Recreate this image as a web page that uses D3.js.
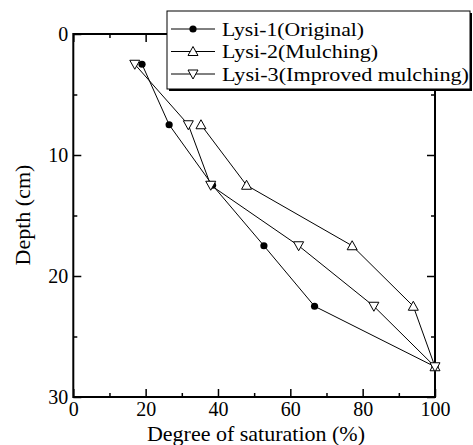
<!DOCTYPE html>
<html><head><meta charset="utf-8">
<script src="https://cdn.jsdelivr.net/npm/d3@7"></script>
<style>body{margin:0;background:#fff}svg{display:block}text{font-family:"Liberation Serif","Times New Roman",serif !important;fill:#000}</style>
</head><body><svg id="c" width="473" height="445"></svg>
<script>
const seriesNames = ["Lysi-1(Original)", "Lysi-2(Mulching)", "Lysi-3(Improved mulching)"];
const lysi1 = [[19, 2.5], [26.5, 7.5], [38.5, 12.5], [52.7, 17.5], [66.7, 22.5], [100, 27.5]];
const lysi2 = [[35.3, 7.5], [47.9, 12.5], [77.1, 17.5], [94, 22.5], [100, 27.5]];
const lysi3 = [[17, 2.5], [31.8, 7.5], [38, 12.5], [62.3, 17.5], [83.1, 22.5], [100, 27.5]];
const xTicks = [0, 20, 40, 60, 80, 100];
const yTicks = [0, 10, 20, 30];

const svg = d3.select("#c");
const L = 73.3, R = 435, T = 34, B = 397;
const x = d3.scaleLinear().domain([0, 100]).range([L, R]);
const y = d3.scaleLinear().domain([0, 30]).range([T, B]);

svg.append("rect").attr("x", L).attr("y", T).attr("width", R - L).attr("height", B - T)
  .attr("fill", "none").attr("stroke", "#000").attr("stroke-width", 2);

const minorX = d3.range(10, 100, 20), minorY = d3.range(5, 30, 10);
const gB = svg.append("g").attr("transform", `translate(0,${B})`)
  .call(d3.axisBottom(x).tickValues(xTicks).tickSizeInner(-8).tickSizeOuter(0).tickPadding(6));
svg.append("g").attr("transform", `translate(0,${B})`)
  .call(d3.axisBottom(x).tickValues(minorX).tickSizeInner(-4).tickSizeOuter(0).tickFormat(""));
svg.append("g").attr("transform", `translate(0,${T})`)
  .call(d3.axisTop(x).tickValues(xTicks).tickSizeInner(-8).tickSizeOuter(0).tickFormat(""));
svg.append("g").attr("transform", `translate(0,${T})`)
  .call(d3.axisTop(x).tickValues(minorX).tickSizeInner(-4).tickSizeOuter(0).tickFormat(""));
const gL = svg.append("g").attr("transform", `translate(${L},0)`)
  .call(d3.axisLeft(y).tickValues(yTicks).tickSizeInner(-8).tickSizeOuter(0).tickPadding(6));
svg.append("g").attr("transform", `translate(${L},0)`)
  .call(d3.axisLeft(y).tickValues(minorY).tickSizeInner(-4).tickSizeOuter(0).tickFormat(""));
svg.append("g").attr("transform", `translate(${R},0)`)
  .call(d3.axisRight(y).tickValues(yTicks).tickSizeInner(-8).tickSizeOuter(0).tickFormat(""));
svg.append("g").attr("transform", `translate(${R},0)`)
  .call(d3.axisRight(y).tickValues(minorY).tickSizeInner(-4).tickSizeOuter(0).tickFormat(""));
svg.selectAll(".domain").remove();
svg.selectAll(".tick line").attr("stroke", "#000").attr("stroke-width", 1.5);
svg.selectAll(".tick text").style("font-size", "20px").attr("fill", "#000");
gB.selectAll(".tick text").attr("y", 19).attr("dy", "0");
gL.selectAll(".tick text").attr("x", -5);

const line = d3.line().x(d => x(d[0])).y(d => y(d[1]));
const all = [lysi1, lysi2, lysi3];
all.forEach(s => svg.append("path").attr("d", line(s)).attr("fill", "none").attr("stroke", "#000").attr("stroke-width", 1));

function marker(g, i, cx, cy) {
  if (i === 0) g.append("circle").attr("cx", cx).attr("cy", cy).attr("r", 3.6).attr("fill", "#000");
  else if (i === 1) g.append("path").attr("d", `M${cx},${cy - 5}L${cx + 5},${cy + 4}L${cx - 5},${cy + 4}Z`).attr("fill", "#fff").attr("stroke", "#000").attr("stroke-width", 1);
  else g.append("path").attr("d", `M${cx},${cy + 5}L${cx + 5},${cy - 4}L${cx - 5},${cy - 4}Z`).attr("fill", "#fff").attr("stroke", "#000").attr("stroke-width", 1);
}
const mg = svg.append("g");
all.forEach((s, i) => s.forEach(d => marker(mg, i, x(d[0]), y(d[1]))));

const lg = svg.append("g");
lg.append("rect").attr("x", 169).attr("y", 13).attr("width", 303).attr("height", 78).attr("fill", "#000");
lg.append("rect").attr("x", 167).attr("y", 11).attr("width", 303).attr("height", 78).attr("fill", "#fff").attr("stroke", "#000").attr("stroke-width", 1);
const legendLens = [142, 156, 247];
seriesNames.forEach((n, i) => {
  const yy = 29 + i * 22.5;
  lg.append("line").attr("x1", 171).attr("x2", 215).attr("y1", yy).attr("y2", yy).attr("stroke", "#000");
  marker(lg, i, 193, yy);
  lg.append("text").attr("x", 222).attr("y", yy).attr("dy", "0.35em").style("font-size", "19px")
    .attr("textLength", legendLens[i]).attr("lengthAdjust", "spacingAndGlyphs").text(n);
});

svg.append("text").attr("x", 256).attr("y", 441).attr("text-anchor", "middle").style("font-size", "22px").text("Degree of saturation (%)");
svg.append("text").attr("transform", `translate(30,215) rotate(-90)`).attr("text-anchor", "middle").style("font-size", "22px").text("Depth (cm)");
</script></body></html>
